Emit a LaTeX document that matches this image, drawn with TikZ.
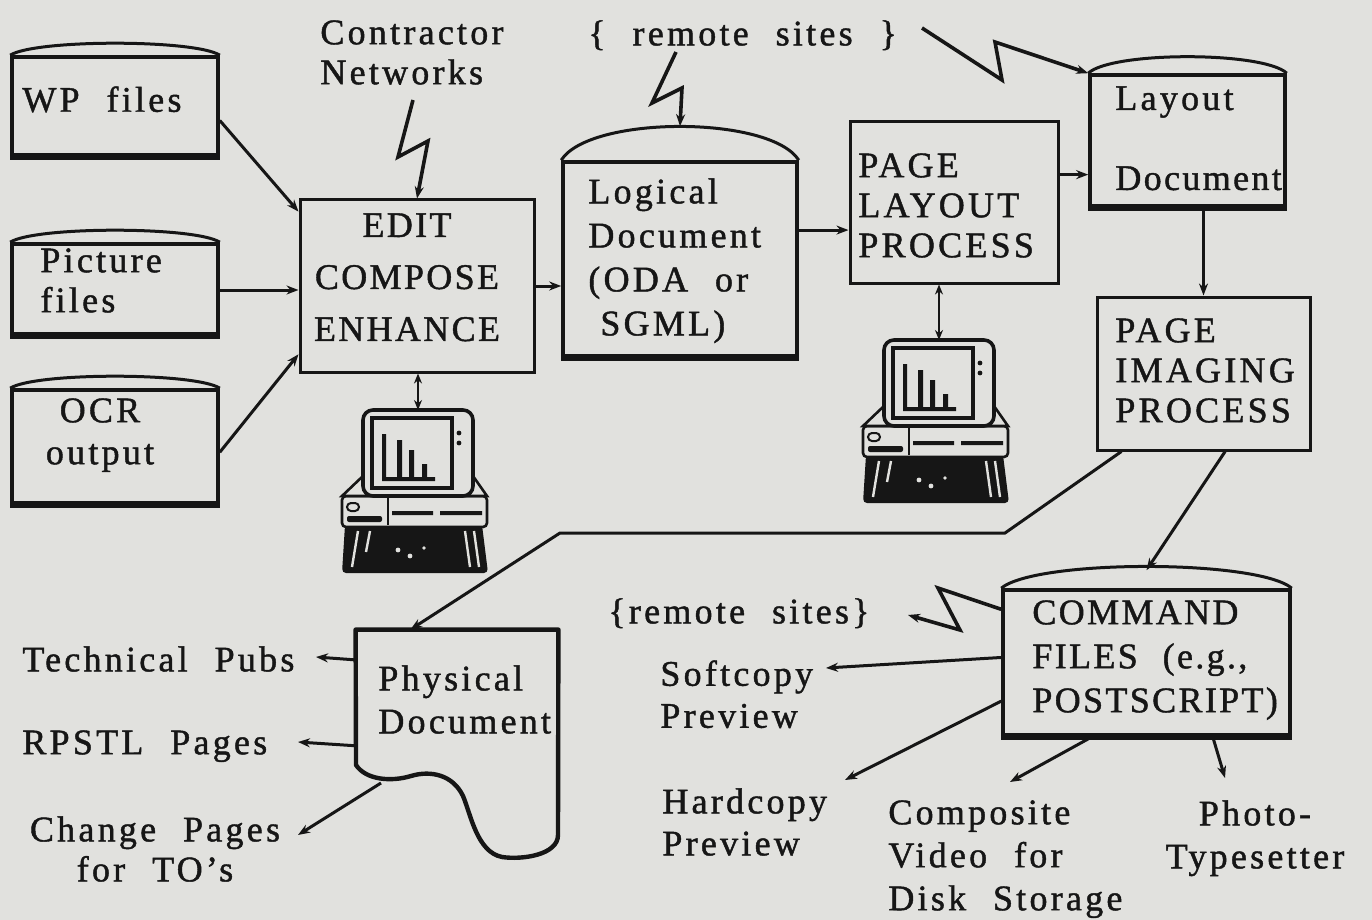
\documentclass[tikz,border=0pt]{standalone}
\usepackage{fontspec}
\setmainfont{Liberation Serif}[LetterSpace=9,WordSpace=2.2,FakeBold=1.2]
\usetikzlibrary{arrows.meta,calc}
\definecolor{paper}{RGB}{225,225,222}
\definecolor{ink}{RGB}{22,22,22}

% workstation icon: monitor with bar chart, system unit, stand
\tikzset{pics/computer/.style={code={
  \coordinate (-top) at (0,0);
  \fill[ink,rounded corners=2pt] (-73,115) -- (64,115) -- (70,163) -- (-76,163) -- cycle;
  \draw[paper,line width=1.2pt] (-60,121) -- (-66,157) (-48,121) -- (-52,142)
       (47,121) -- (52,157) (56,121) -- (61,157);
  \fill[paper] (-20,140) circle (1.2pt) (-8,146) circle (1.2pt) (6,138) circle (0.9pt);
  \draw[ink,line width=1.3pt,fill=paper,rounded corners=2pt] (-76,86) rectangle (69,117);
  \fill[ink,rounded corners=1pt] (-71,106) rectangle (-36,112);
  \draw[ink,line width=1pt,rounded corners=2pt] (-71,93) rectangle (-59,101);
  \draw[ink,line width=1pt] (-30,88) -- (-30,115);
  \fill[ink] (-26,101) rectangle (15,105) (22,101) rectangle (64,105);
  \draw[ink,line width=1.3pt,fill=paper] (-55,66) -- (-76,86) -- (69,86) -- (55,66) -- cycle;
  \draw[ink,line width=1.8pt,fill=paper,rounded corners=5pt] (-55,0) rectangle (55,86);
  \draw[ink,line width=2pt] (-46,8) rectangle (34,78);
  \fill[ink] (-36,24) rectangle (-32,70) (-21,30) rectangle (-16,70)
             (-9,40) rectangle (-4,70) (4,54) rectangle (9,70) (-36,67) rectangle (17,71);
  \fill[ink] (41,23) circle (1.2pt) (41,33) circle (1.2pt);
}}}

% rectangular block given by its corners (in pixel units)
\newcommand\blk[6]{%
  \node[#1,minimum width={(#4-#2)*0.5pt},minimum height={(#5-#3)*0.5pt}]
    (#6) at ({(#2+#4)/2},{(#3+#5)/2}) {};}

% shallow domed lid and heavy base of a file store
\newcommand\cylcap[2]{%
  \draw[ink,line width=1.5pt] (#1.north west)
    .. controls ($(#1.north west)!0.12!(#1.north east)+(0,-#2)$)
            and ($(#1.north east)!0.12!(#1.north west)+(0,-#2)$) .. (#1.north east);
  \draw[ink,line width=3.5pt] ([yshift=1pt]#1.south west) -- ([yshift=1pt]#1.south east);}

\begin{document}
\begin{tikzpicture}[x=0.5pt,y=-0.5pt,
  every node/.style={inner sep=0pt,text=ink},
  box/.style={draw=ink,line width=1.5pt},
  store/.style={draw=ink,line width=1.8pt},
  hidden/.style={draw=none},
  txt/.style={font=\fontsize{18pt}{#1}\selectfont,align=left,anchor=north west},
  txt/.default=21pt,
  tight/.style={font=\fontsize{18pt}{#1}\selectfont\addfontfeature{LetterSpace=6.5},align=left,anchor=north west},
  tight/.default=21pt,
  arr/.style={draw=ink,line width=1.5pt,-{Stealth[length=6pt,width=4.5pt]}},
  arrboth/.style={draw=ink,line width=1.4pt,{Stealth[length=5pt,width=4pt]}-{Stealth[length=5pt,width=4pt]}},
  bolt/.style={arr,line width=1.8pt,line join=miter}]

\fill[paper] (0,0) rectangle (1372,920);
\path[use as bounding box] (0,0) rectangle (1372,920);

% ---- stores and processes
\blk{store}{12}{57}{218}{157}{wp}
\blk{store}{12}{244}{218}{336}{pic}
\blk{store}{12}{390}{218}{505}{ocr}
\blk{box}{300}{200}{534}{372}{edit}
\blk{store}{563}{162}{797}{358}{logical}
\blk{box}{850}{122}{1058}{283}{pagelayout}
\blk{store}{1090}{75}{1285}{208}{layout}
\blk{box}{1097}{297}{1310}{450}{imaging}
\blk{store}{1003}{590}{1290}{737}{command}
\blk{hidden}{356}{630}{558}{857}{physical}

\cylcap{wp}{16}
\cylcap{pic}{16}
\cylcap{ocr}{16}
\cylcap{logical}{45}
\cylcap{layout}{22}
\cylcap{command}{29}

% printed document with a torn lower edge
\draw[ink,line width=2.2pt,line join=round]
  (physical.north west) -- (physical.north east) -- (558,835)
  .. controls (558,855) and (522,860) .. (502,857)
  .. controls (477,852) and (471,815) .. (463,796)
  .. controls (453,775) and (431,770) .. (411,776)
  .. controls (391,782) and (366,780) .. (356,765) -- cycle;
\coordinate (pw) at (381,783);

% ---- workstations
\pic (c1) at (418,410) {computer};
\pic (c2) at (939,340) {computer};

% ---- labels
\node[txt] (wptxt) at (22,86) {WP files};
\node[txt=20pt] (pictxt) at (40,248) {Picture\\files};
\node[txt=21pt,align=center,anchor=north] (ocrtxt) at (100,398) {OCR\\output};
\node[tight=26pt,align=center,anchor=north] (edittxt) at (407,213) {EDIT\\COMPOSE\\ENHANCE};
\node[txt=20pt] (contractor) at (320,20) {Contractor\\Networks};
\node[txt] (remote1) at (588,20) {\{ remote sites \}};
\node[txt=22pt] (logtxt) at (588,178) {Logical\\Document\\(ODA or\\\hspace{6pt}SGML)};
\node[txt=20pt] (pltxt) at (858,153) {PAGE\\LAYOUT\\PROCESS};
\node[txt] (laytxt) at (1115,86) {Layout};
\node[tight] (laydoc) at (1115,166) {Document};
\node[txt=20pt] (imgtxt) at (1115,318) {PAGE\\IMAGING\\PROCESS};
\node[txt=21.5pt] (phystxt) at (378,665) {Physical\\Document};
\node[txt] (techpubs) at (22,646) {Technical Pubs};
\node[txt] (rpstl) at (22,730) {RPSTL Pages};
\node[txt=20pt,align=center,anchor=north] (change) at (155,816) {Change Pages\\for TO's};
\node[txt] (remote2) at (608,598) {\{remote sites\}};
\node[txt=21pt] (softcopy) at (660,660) {Softcopy\\Preview};
\node[tight=22pt] (cmdtxt) at (1032,600) {COMMAND\\FILES (e.g.,\\POSTSCRIPT)};
\node[txt=21pt] (hardcopy) at (662,788) {Hardcopy\\Preview};
\node[txt=21.5pt] (composite) at (888,800) {Composite\\Video for\\Disk Storage};
\node[txt=21.5pt,align=center,anchor=north] (photo) at (1255,800) {Photo-\\Typesetter};

% ---- free ends of connectors
\coordinate (cnb) at (413,100);
\coordinate (rsb1) at (676,52);
\coordinate (rsb2) at (922,28);
\coordinate (bendA) at (1005,533);
\coordinate (bendB) at (560,533);
\coordinate (tipRS) at (908,615);
\coordinate (tipSoft) at (826,668);
\coordinate (tipHard) at (845,780);
\coordinate (tipComp) at (1010,782);
\coordinate (tipPhoto) at (1225,778);
\coordinate (tipTech) at (316,657);
\coordinate (tipRpstl) at (298,742);
\coordinate (tipChange) at (298,835);

% ---- connectors
\draw[arr] ($(wp.north east)!0.63!(wp.south east)$) -- ($(edit.north west)!0.075!(edit.south west)$);
\draw[arr] (pic.east) -- (pic.east -| edit.west);
\draw[arr] ($(ocr.north east)!0.54!(ocr.south east)$) -- ($(edit.north west)!0.89!(edit.south west)$);
\draw[bolt] (cnb) -- (398,157) -- (428,141) -- (edit.north);
\draw[arr] (edit.east) -- (edit.east -| logical.west);
\coordinate (lo) at ($(logical.north east)!0.35!(logical.south east)$);
\draw[arr] (lo) -- (lo -| pagelayout.west);
\coordinate (pl) at ($(pagelayout.north east)!0.33!(pagelayout.south east)$);
\draw[arr] (pl) -- (pl -| layout.west);
\draw[bolt] (rsb1) -- (652,103) -- (682,88) -- ([yshift=17pt]logical.north);
\draw[bolt] (rsb2) -- (1002,80) -- (995,42) -- (layout.north west);
\draw[arr] (imaging.north |- layout.south) -- (imaging.north);
\draw[arrboth] (edit.south -| c1-top) -- (c1-top);
\draw[arrboth] (pagelayout.south -| c2-top) -- (c2-top);
\draw[arr] ($(imaging.south west)!0.12!(imaging.south east)$) -- (bendA) -- (bendB)
  -- ($(physical.north west)!0.27!(physical.north east)$);
\draw[arr] ($(imaging.south west)!0.6!(imaging.south east)$) -- ([yshift=9pt]command.north);
\draw[bolt] ($(command.north west)!0.14!(command.south west)$) -- (938,588) -- (960,630) -- (tipRS);
\draw[arr] ($(command.north west)!0.46!(command.south west)$) -- (tipSoft);
\draw[arr] ($(command.north west)!0.75!(command.south west)$) -- (tipHard);
\draw[arr] ($(command.south west)!0.3!(command.south east)$) -- (tipComp);
\draw[arr] ($(command.south west)!0.73!(command.south east)$) -- (tipPhoto);
\draw[arr] ($(physical.north west)!0.133!(physical.south west)$) -- (tipTech);
\draw[arr] ($(physical.north west)!0.51!(physical.south west)$) -- (tipRpstl);
\draw[arr] (pw) -- (tipChange);

\end{tikzpicture}
\end{document}
